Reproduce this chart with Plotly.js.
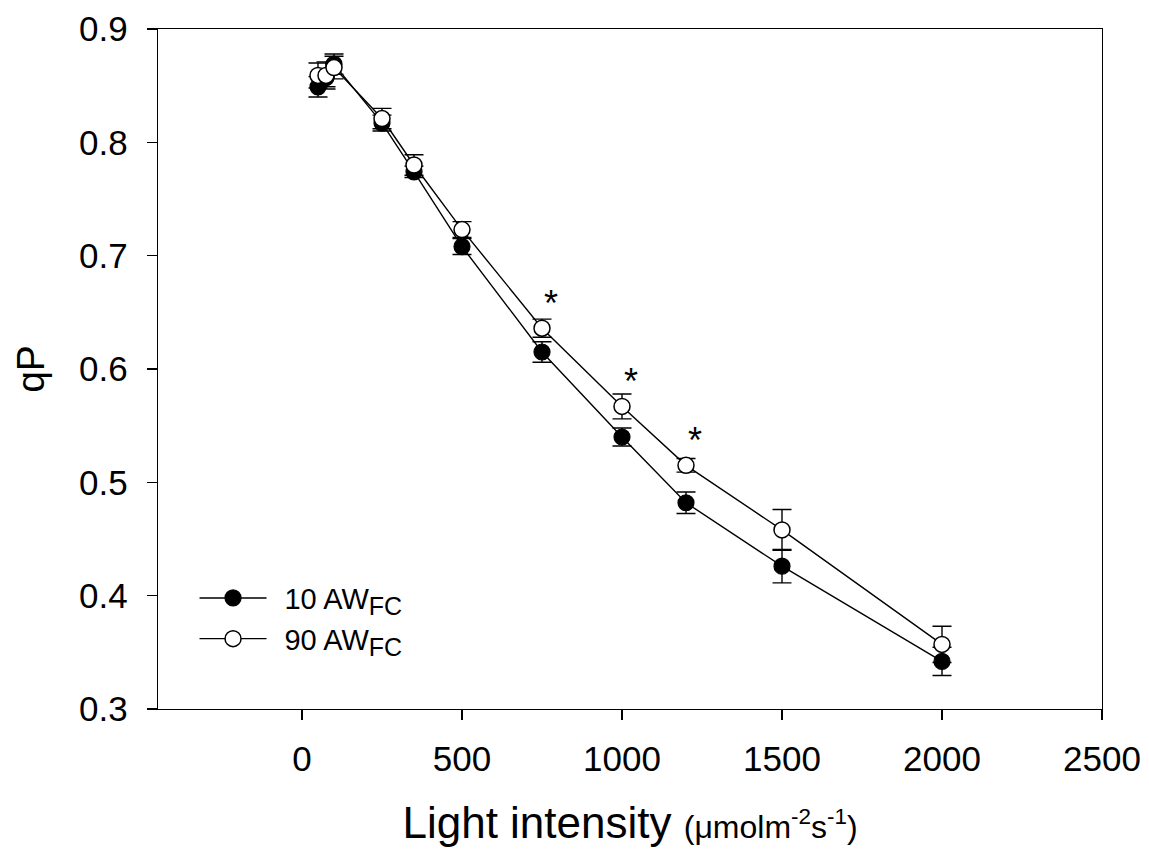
<!DOCTYPE html>
<html>
<head>
<meta charset="utf-8">
<script src="https://cdn.plot.ly/plotly-3.0.1.min.js"></script>
<style>
html,body{margin:0;padding:0;background:#fff;}
#chart{width:1149px;height:854px;}
</style>
</head>
<body>
<div id="chart"></div>
<script>
// Light intensity (µmol m-2 s-1)
var lightIntensity = [50, 75, 100, 250, 350, 500, 750, 1000, 1200, 1500, 2000];

// 10 AW_FC series
var qP10 = [0.849, 0.857, 0.869, 0.817, 0.774, 0.708, 0.615, 0.540, 0.482, 0.426, 0.342];
var err10 = [0.009, 0.008, 0.009, 0.007, 0.005, 0.007, 0.009, 0.008, 0.0095, 0.0147, 0.0125];

// 90 AW_FC series
var qP90 = [0.859, 0.859, 0.866, 0.821, 0.780, 0.723, 0.636, 0.567, 0.515, 0.458, 0.357];
var err90 = [0.011, 0.012, 0.010, 0.009, 0.009, 0.007, 0.008, 0.011, 0.006, 0.018, 0.016];

// light intensities with significant difference (*)
var significantX = [750, 1000, 1200];

var seriesNames = ['\u00a0\u200610 AW<sub><span style="font-size:25px">FC</span></sub>',
                   '\u00a0\u200690 AW<sub><span style="font-size:25px">FC</span></sub>'];

var xTicks = [0, 500, 1000, 1500, 2000, 2500];
var yTicks = [0.3, 0.4, 0.5, 0.6, 0.7, 0.8, 0.9];

var FONT = 'Arial, "Liberation Sans", sans-serif';

var errStyle = {type: 'data', visible: true, color: '#000', thickness: 1.4, width: 9.5};

var trace10 = {
  x: lightIntensity, y: qP10, name: seriesNames[0],
  type: 'scatter', mode: 'lines+markers',
  line: {color: '#000', width: 1.4},
  marker: {symbol: 'circle', size: 16, color: '#000', line: {color: '#000', width: 1.2}},
  error_y: Object.assign({array: err10}, errStyle)
};
var trace90 = {
  x: lightIntensity, y: qP90, name: seriesNames[1],
  type: 'scatter', mode: 'lines+markers',
  line: {color: '#000', width: 1.4},
  marker: {symbol: 'circle', size: 16, color: '#fff', line: {color: '#000', width: 1.5}},
  error_y: Object.assign({array: err90}, errStyle)
};

var annotations = significantX.map(function (sx) {
  var i = lightIntensity.indexOf(sx);
  return {
    x: sx, y: qP90[i], xref: 'x', yref: 'y',
    text: '*', showarrow: false,
    xshift: 9, yshift: 25,
    font: {family: FONT, size: 36, color: '#000'}
  };
});

var layout = {
  width: 1149, height: 854,
  paper_bgcolor: '#fff', plot_bgcolor: '#fff',
  margin: {l: 158, r: 47, t: 29, b: 145, pad: 0},
  font: {family: FONT, color: '#000'},
  showlegend: true,
  legend: {
    x: 0.0387, y: 0.2006, xanchor: 'left', yanchor: 'top',
    bgcolor: 'rgba(0,0,0,0)', borderwidth: 0,
    font: {family: FONT, size: 29, color: '#000'},
    itemwidth: 67, traceorder: 'normal'
  },
  xaxis: {
    range: [-450, 2500], tickvals: xTicks, ticktext: xTicks.map(String),
    showgrid: false, zeroline: false,
    showline: true, mirror: true, linecolor: '#000', linewidth: 1.4,
    ticks: 'outside', ticklen: 10, tickwidth: 1.4, tickcolor: '#000',
    ticklabelstandoff: 9,
    tickfont: {family: FONT, size: 35, color: '#000'},
    title: {
      text: 'Light intensity <span style="font-size:32px">(μmolm<sup>-2</sup>s<sup>-1</sup>)</span>',
      font: {family: FONT, size: 44, color: '#000'},
      standoff: 29
    },
    automargin: false
  },
  yaxis: {
    range: [0.3, 0.9], tickvals: yTicks, ticktext: yTicks.map(function (v) { return v.toFixed(1); }),
    showgrid: false, zeroline: false,
    showline: true, mirror: true, linecolor: '#000', linewidth: 1.4,
    ticks: 'outside', ticklen: 10, tickwidth: 1.4, tickcolor: '#000',
    ticklabelstandoff: 12,
    tickfont: {family: FONT, size: 35, color: '#000'},
    title: {text: 'qP', font: {family: FONT, size: 39, color: '#000'}, standoff: 22},
    automargin: false
  },
  annotations: annotations
};

Plotly.newPlot('chart', [trace10, trace90], layout, {displayModeBar: false, staticPlot: true});
</script>
</body>
</html>
